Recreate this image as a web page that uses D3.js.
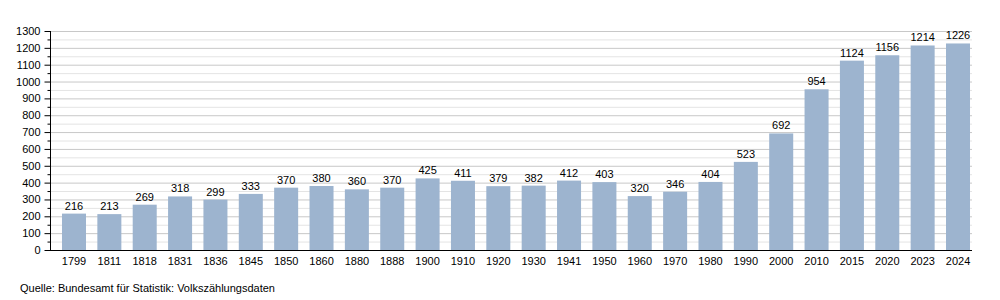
<!DOCTYPE html>
<html><head><meta charset="utf-8">
<script src="https://cdn.jsdelivr.net/npm/d3@7"></script>
<style>body{margin:0;background:#fff}svg{display:block;font-family:"Liberation Sans",Arial,sans-serif}</style>
</head><body>
<svg id="c" width="1000" height="300"></svg>
<script>
const years = ["1799","1811","1818","1831","1836","1845","1850","1860","1880","1888","1900","1910","1920","1930","1941","1950","1960","1970","1980","1990","2000","2010","2015","2020","2023","2024"];
const population = [216,213,269,318,299,333,370,380,360,370,425,411,379,382,412,403,320,346,404,523,692,954,1124,1156,1214,1226];
const yTicks = [0,100,200,300,400,500,600,700,800,900,1000,1100,1200,1300];
const source = "Quelle: Bundesamt für Statistik: Volkszählungsdaten";

const svg = d3.select("#c");
const pLeft = 50, pRight = 972, pTop = 31, pBottom = 250;
const x = d3.scaleBand().domain(years).range([pLeft, 982]).paddingInner(0.321).paddingOuter(0.339);
const y = d3.scaleLinear().domain([0,1300]).range([pBottom, pTop]);

// minor grid
const minor = d3.range(50, 1300, 100);
svg.append("g").selectAll("line").data(minor).join("line")
  .attr("x1", pLeft).attr("x2", pRight).attr("y1", d=>y(d)+0.5).attr("y2", d=>y(d)+0.5)
  .attr("stroke", "#e4e4e4").attr("stroke-width", 1);
svg.append("g").selectAll("line").data(yTicks.slice(1)).join("line")
  .attr("x1", pLeft).attr("x2", pRight).attr("y1", d=>y(d)+0.5).attr("y2", d=>y(d)+0.5)
  .attr("stroke", "#c8c8c8").attr("stroke-width", 1);

svg.append("g").selectAll("rect").data(years).join("rect")
  .attr("x", d=>x(d)).attr("width", x.bandwidth())
  .attr("y", (d,i)=>y(population[i])).attr("height", (d,i)=>pBottom - y(population[i]))
  .attr("fill", "#9db4cf");

svg.append("g").selectAll("text").data(years).join("text")
  .attr("x", d=>x(d)+x.bandwidth()/2).attr("y", (d,i)=>y(population[i]) - 4)
  .attr("text-anchor", "middle").attr("font-size", 11).attr("fill", "#000")
  .text((d,i)=>population[i]);

// y axis
const ya = svg.append("g").attr("transform", `translate(${pLeft+0.5},0)`)
  .call(d3.axisLeft(y).tickValues(yTicks).tickSize(6).tickPadding(4).tickFormat(d3.format("d")));
ya.select(".domain").attr("stroke", "#000").attr("d", `M0,${pTop}V${pBottom}`);
ya.selectAll("text").attr("font-size", 11).attr("font-family", "Liberation Sans, Arial, sans-serif").attr("fill","#000");
ya.selectAll(".tick line").attr("stroke", "#000");
svg.append("g").attr("transform", `translate(${pLeft+0.5},0)`)
  .selectAll("line").data(minor).join("line")
  .attr("x1", -3).attr("x2", 0).attr("y1", d=>y(d)+0.5).attr("y2", d=>y(d)+0.5).attr("stroke", "#000");

// x axis
const xa = svg.append("g").attr("transform", `translate(0,${pBottom+0.5})`)
  .call(d3.axisBottom(x).tickSize(0).tickPadding(7));
xa.select(".domain").attr("stroke", "#000").attr("d", `M${pLeft},0H${pRight}`);
xa.selectAll("text").attr("font-size", 11).attr("font-family", "Liberation Sans, Arial, sans-serif").attr("fill","#000");

svg.append("text").attr("x", 20).attr("y", 292).attr("font-size", 11).attr("fill", "#000").text(source);
</script>
</body></html>
